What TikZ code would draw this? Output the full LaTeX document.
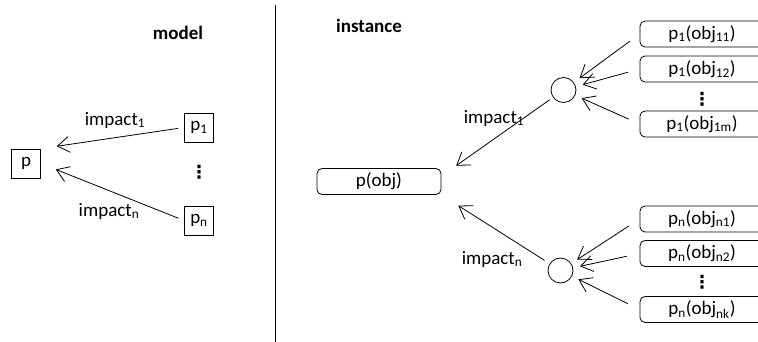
\documentclass[tikz,border=0pt]{standalone}
\usepackage{fontspec}
\setmainfont{Carlito}
\newfontfamily\symfont{DejaVu Sans}
\usetikzlibrary{arrows.meta}
\tikzset{
  pbox/.style={draw,line width=0.8pt,minimum width=29pt,minimum height=29pt,inner sep=0pt},
  objbox/.style={draw,line width=0.8pt,rounded corners=5pt,minimum width=124pt,minimum height=26pt,inner sep=0pt},
  agg/.style={draw,circle,line width=0.8pt,minimum size=25pt,inner sep=0pt},
  imp/.style={line width=0.8pt,-{Straight Barb[length=12pt,width=16pt,line width=0.8pt]}},
  dotcol/.style={inner sep=0pt,font=\fontsize{18}{20}\symfont\bfseries},
  title/.style={font=\fontsize{19}{22}\selectfont\bfseries}
}
\begin{document}
\begin{tikzpicture}[x=1pt,y=-1pt,font=\fontsize{19}{22}\selectfont]
        \clip (0,0) rectangle (758,341);
        %% divider
        \draw[line width=1.5pt] (275.5,5) -- (275.5,345);
        %% model
        \node[title] (model) at (178,33) {model};
        \node[pbox] (p) at (26,163.5) {p};
        \node[pbox] (p1) at (199,127.5) {p\textsubscript{1}};
        \node[pbox] (pn) at (199,220.5) {p\textsubscript{n}};
        \node[dotcol] (mdots) at (199,172) {⋮};
        \draw[imp,shorten <=6pt,shorten >=16pt] (p1.west) -- (p.north east);
        \draw[imp,shorten <=6pt,shorten >=16pt] (pn.west) -- (p.east);
        \node (mimp1) at (115,120) {impact\textsubscript{1}};
        \node (mimpn) at (109,211) {impact\textsubscript{n}};
        %% instance
        \node[title] (inst) at (369,26) {instance};
        \node[objbox] (pobj) at (379,181.5) {p(obj)};
        \node[agg] (c1) at (563.5,90) {};
        \node[agg] (cn) at (560.5,270.5) {};
        \draw[imp,shorten <=4pt,shorten >=18pt] (c1) -- ([yshift=-8pt]pobj.north east);
        \draw[imp,shorten <=6pt,shorten >=20pt] (cn) -- (pobj.south east);
        \node (iimp1) at (494,118) {impact\textsubscript{1}};
        \node (iimpn) at (492,259) {impact\textsubscript{n}};
        %% objects
        \foreach \y/\j [count=\i] in {34/11,69/12,124/1m} {
          \node[objbox] (a\i) at (702,\y) {p\textsubscript{1}(obj\textsubscript{\j})};
          \draw[imp,shorten <=12pt,shorten >=7pt] (a\i.west) -- (c1);
        }
        \foreach \y/\j [count=\i] in {219/n1,253.5/n2,309.5/nk} {
          \node[objbox] (b\i) at (702,\y) {p\textsubscript{n}(obj\textsubscript{\j})};
          \draw[imp,shorten <=13pt,shorten >=7pt] (b\i.west) -- (cn);
        }
        \node[dotcol] (adots) at (702,99) {⋮};
        \node[dotcol] (bdots) at (702,282) {⋮};
\end{tikzpicture}
\end{document}
